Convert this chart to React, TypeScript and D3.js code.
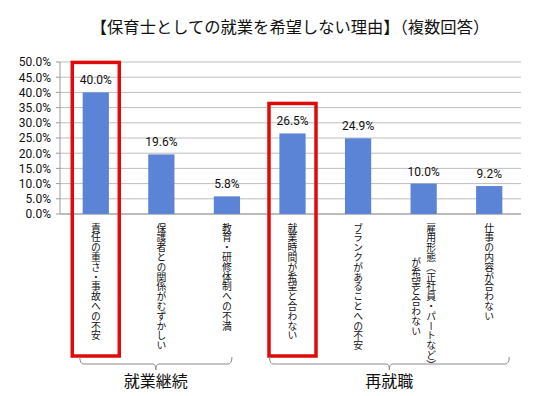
import React from 'react';
import { scaleBand, scaleLinear, range } from 'd3';

const title = '【保育士としての就業を希望しない理由】（複数回答）';
const categories = [
  ['責任の重さ・事故への不安'],
  ['保護者との関係がむずかしい'],
  ['教育・研修体制への不満'],
  ['就業時間が希望と合わない'],
  ['ブランクがあることへの不安'],
  ['雇用形態（正社員・パートなど）', 'が希望と合わない'],
  ['仕事の内容が合わない'],
];
const values = [40.0, 19.6, 5.8, 26.5, 24.9, 10.0, 9.2];
const highlighted = [0, 3];
const groups = [
  { name: '就業継続', from: 0, to: 2 },
  { name: '再就職', from: 3, to: 6 },
];
const yTicks = range(0, 51, 5);

const W = 550;
const H = 396;
const left = 60;
const top = 62;
const bottom = 214;
const right = 521;
const jp = '"Noto Sans CJK JP", sans-serif';
const num = 'Roboto, "Noto Sans", sans-serif';
const barColor = '#5b84d6';
const red = '#e00a0a';

export default function App() {
  const x = scaleBand<number>()
    .domain(range(values.length))
    .range([63, 522])
    .paddingInner(0.6)
    .paddingOuter(0.3);
  const y = scaleLinear().domain([0, 50]).range([bottom, top]);
  const bw = x.bandwidth();
  const cx = (i: number) => (x(i) ?? 0) + bw / 2;
  const fs = 9.8;
  const labelTop = 223;

  return (
    <svg
      width={W}
      height={H}
      style={{ position: 'absolute', left: 0, top: 0, background: '#fff' }}
    >
      <text x={290} y={33} textAnchor="middle" fontFamily={jp} fontSize={16.3} fill="#111">
        {title}
      </text>

      {yTicks.map(t => (
        <g key={t}>
          <line x1={left} x2={right} y1={y(t)} y2={y(t)} stroke="#bdbdbd" strokeWidth={1} />
          <line x1={left - 4} x2={left} y1={y(t)} y2={y(t)} stroke="#9a9a9a" strokeWidth={1} />
          <text
            x={left - 9}
            y={y(t)}
            dy="0.36em"
            textAnchor="end"
            fontFamily={num}
            fontSize={12}
            fill="#111"
          >
            {t.toFixed(1)}%
          </text>
        </g>
      ))}
      <line x1={left} x2={left} y1={top} y2={bottom} stroke="#9a9a9a" strokeWidth={1} />
      <line x1={left} x2={right} y1={bottom} y2={bottom} stroke="#9a9a9a" strokeWidth={1} />

      {values.map((v, i) => (
        <g key={i}>
          <rect x={x(i)} y={y(v)} width={bw} height={bottom - y(v)} fill={barColor} />
          <text
            x={cx(i)}
            y={y(v) - 8}
            textAnchor="middle"
            fontFamily={num}
            fontSize={12}
            fill="#111"
          >
            {v.toFixed(1)}%
          </text>
        </g>
      ))}

      {categories.map((cols, i) => {
        const maxLen = Math.max(...cols.map(c => c.length));
        const gap = 15;
        return cols.map((c, j) => {
          const colX = cx(i) + ((cols.length - 1) / 2 - j) * gap;
          return (
            <text
              key={`${i}-${j}`}
              x={colX}
              y={labelTop + ((maxLen - c.length) * fs) / 2}
              fontFamily={jp}
              fontSize={fs}
              fill="#111"
              style={{ writingMode: 'vertical-rl' } as React.CSSProperties}
            >
              {c}
            </text>
          );
        });
      })}

      {highlighted.map(i => (
        <rect
          key={i}
          x={cx(i) - 23.5}
          y={y(values[i]) - 30}
          width={47}
          height={356 - (y(values[i]) - 30)}
          fill="none"
          stroke={red}
          strokeWidth={3.5}
        />
      ))}

      {groups.map((g, k) => {
        const x0 = k === 0 ? cx(g.from) - 16 : cx(g.from) - 23;
        const x1 = k === 0 ? cx(g.to) + 5 : cx(g.to) + 20;
        const mid = (x0 + x1) / 2;
        return (
          <g key={g.name}>
            <path
              d={`M${x0},357 Q${x0},364 ${x0 + 4},364 L${mid - 3},364 Q${mid},364 ${mid},370 Q${mid},364 ${mid + 3},364 L${x1 - 4},364 Q${x1},364 ${x1},357`}
              fill="none"
              stroke="#8a8a8a"
              strokeWidth={1}
            />
            <text x={mid} y={387} textAnchor="middle" fontFamily={jp} fontSize={16} fill="#111">
              {g.name}
            </text>
          </g>
        );
      })}
    </svg>
  );
}
